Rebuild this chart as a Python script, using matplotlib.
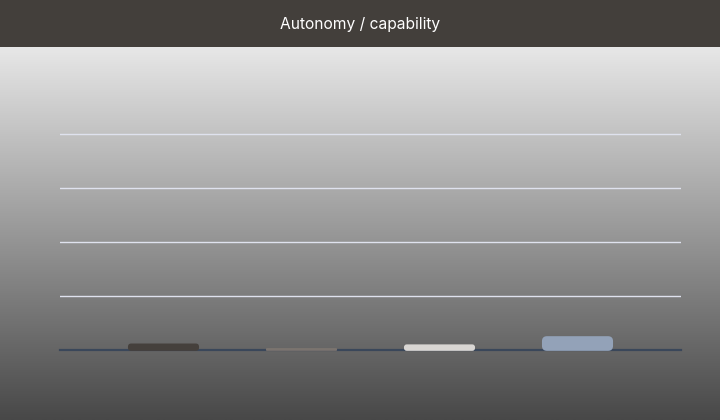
import numpy as np
import matplotlib.pyplot as plt
from matplotlib.patches import FancyBboxPatch, Rectangle
from matplotlib.colors import LinearSegmentedColormap

plt.rcParams['font.family'] = ['Inter', 'DejaVu Sans']

# Data (no visible labels in the chart; values read relative to gridline spacing)
categories = ['A', 'B', 'C', 'D']
values = [0.030, 0.009, 0.026, 0.064]
bar_colors = ['#45403c', '#7b746f', '#d9d6d3', '#93a2b8']
grid_ticks = [0.25, 0.5, 0.75, 1.0]
title = 'Autonomy / capability'

W, H = 720, 420
fig = plt.figure(figsize=(W / 100, H / 100), dpi=100)

# background gradient
bg = fig.add_axes([0, 0, 1, 1 - 47 / H], zorder=0)
grad = np.linspace(0, 1, 256).reshape(-1, 1)
cmap = LinearSegmentedColormap.from_list('bg', ['#e7e7e7', '#484848'])
bg.imshow(grad, aspect='auto', cmap=cmap, extent=[0, 1, 0, 1])
bg.axis('off')

# header band
fig.patches.append(Rectangle((0, 1 - 47 / H), 1, 47 / H, transform=fig.transFigure,
                             facecolor='#433f3b', edgecolor='none', zorder=1))
fig.text(0.5, 1 - 24.5 / H, title, color='white', fontsize=11.2,
         ha='center', va='center', zorder=2)

# plot area
left, right, bottom, top = 60, 681, 350, 80
ax = fig.add_axes([left / W, (H - bottom) / H, (right - left) / W, (bottom - top) / H], zorder=3)
ax.patch.set_visible(False)
ax.set_xlim(-0.75, len(categories) - 0.25)
ax.set_ylim(0, 1.25)
for s in ax.spines.values():
    s.set_visible(False)
ax.set_xticks([])
ax.set_yticks([])

for t in grid_ticks:
    ax.axhline(t, color='#dfe2ee', linewidth=1, zorder=1)
ax.axhline(0, color='#3a475a', linewidth=1.6, zorder=2, clip_on=False)

# rounded bars
px_x = (right - left) / (len(categories) - 0.25 + 0.75)  # pixels per x unit
px_y = (bottom - top) / 1.25                              # pixels per y unit
bar_w = 0.515
for i, (v, c) in enumerate(zip(values, bar_colors)):
    h_px = v * px_y
    r_px = min(5.0, h_px / 2)
    p = FancyBboxPatch((i - bar_w / 2, -0.004), bar_w, v + 0.004,
                       boxstyle='round,pad=0,rounding_size=%f' % (r_px / px_x),
                       mutation_aspect=px_x / px_y,
                       facecolor=c, edgecolor='none', zorder=3, clip_on=False)
    ax.add_patch(p)

fig.savefig('out.png', dpi=100)
